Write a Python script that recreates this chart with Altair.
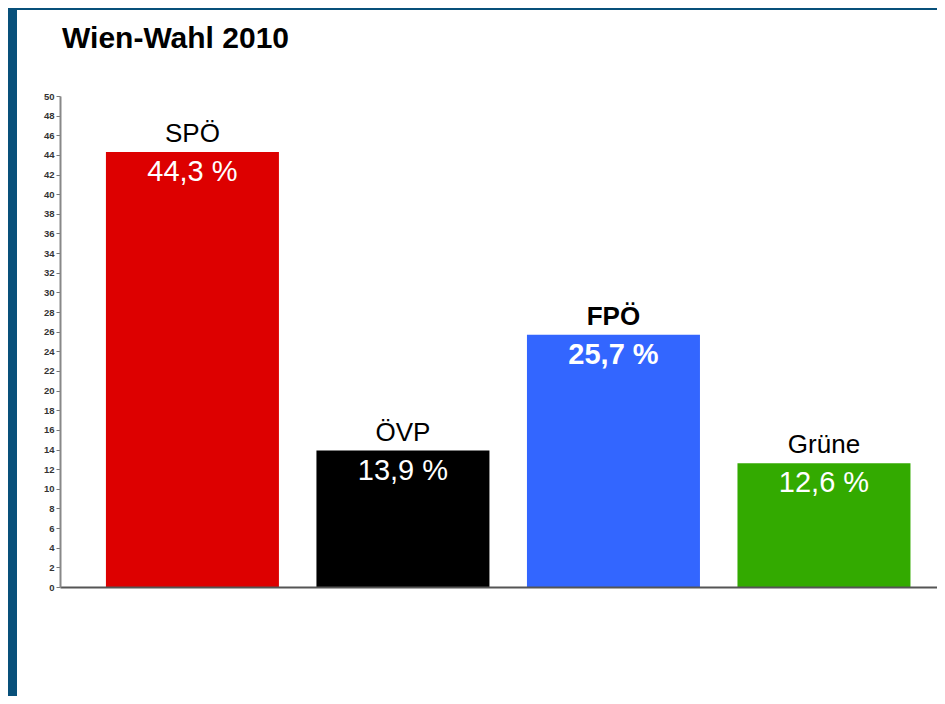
import altair as alt
import pandas as pd

title_text = "Wien-Wahl 2010"
parties = ["SPÖ", "ÖVP", "FPÖ", "Grüne"]
shares = [44.3, 13.9, 25.7, 12.6]
share_labels = ["44,3 %", "13,9 %", "25,7 %", "12,6 %"]
colors = ["#dd0000", "#000000", "#3366ff", "#33aa00"]
bold = [False, False, True, False]
y_ticks = list(range(0, 51, 2))

df = pd.DataFrame({
    "party": parties,
    "share": shares,
    "label": share_labels,
    "color": colors,
    "bold": bold,
})

FONT = "Liberation Sans"

x_enc = alt.X(
    "party:N",
    sort=parties,
    scale=alt.Scale(paddingInner=0.178, paddingOuter=0.172, align=0.634),
    axis=alt.Axis(labels=False, ticks=False, title=None, domainColor="#555555",
                  domainWidth=2, zindex=1),
)
y_enc = alt.Y(
    "share:Q",
    scale=alt.Scale(domain=[0, 50], nice=False),
    axis=alt.Axis(values=y_ticks, title=None, grid=False, labelFontSize=9.5,
                  labelFontWeight="bold", labelColor="#333333", labelFont=FONT,
                  labelOverlap=False, labelFlush=False,
                  tickSize=4, tickColor="#777777", labelPadding=2,
                  domainColor="#888888", domainWidth=2, zindex=1),
)

one = pd.DataFrame({"a": [0]})

panel = alt.Chart(one).mark_rect(color="white").encode(
    x=alt.value(-43), x2=alt.value(877), y=alt.value(-86), y2=alt.value(600)
)

title = alt.Chart(one).mark_text(
    text=title_text, font=FONT, fontSize=30, fontWeight="bold", color="black",
    align="left", baseline="alphabetic"
).encode(x=alt.value(2), y=alt.value(-48))

base = alt.Chart(df)

bars = base.mark_bar(size=173).encode(
    x=x_enc,
    y=y_enc,
    color=alt.Color("color:N", scale=None),
)

names_normal = base.transform_filter("!datum.bold").mark_text(
    font=FONT, fontSize=26, color="black", baseline="alphabetic", dy=-10
).encode(x=x_enc, y=y_enc, text="party:N")

names_bold = base.transform_filter("datum.bold").mark_text(
    font=FONT, fontSize=26, fontWeight="bold", color="black", baseline="alphabetic", dy=-10
).encode(x=x_enc, y=y_enc, text="party:N")

vals_normal = base.transform_filter("!datum.bold").mark_text(
    font=FONT, fontSize=29, color="white", baseline="alphabetic", dy=29
).encode(x=x_enc, y=y_enc, text="label:N")

vals_bold = base.transform_filter("datum.bold").mark_text(
    font=FONT, fontSize=29, fontWeight="bold", color="white", baseline="alphabetic", dy=29
).encode(x=x_enc, y=y_enc, text="label:N")

chart = alt.layer(
    panel, title, bars, names_normal, names_bold, vals_normal, vals_bold
).properties(
    width=877,
    height=491,
    background="#08507a",
    padding={"left": 52, "top": 88, "right": 0, "bottom": 109},
    autosize=alt.AutoSizeParams(type="none"),
).configure_view(stroke=None)

chart.save("out.html", embed_options={"renderer": "svg", "actions": False})
